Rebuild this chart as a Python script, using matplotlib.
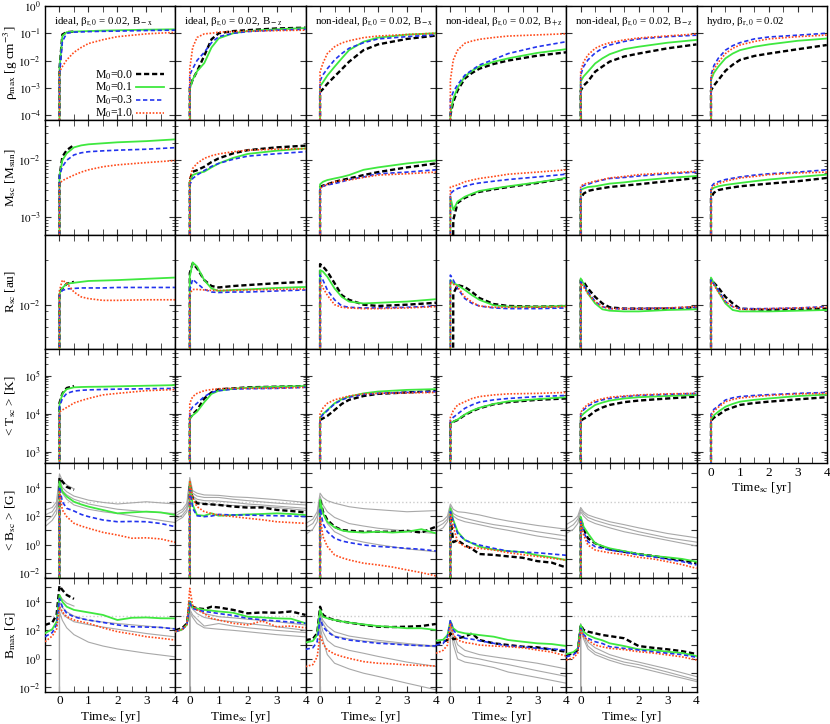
import numpy as np
import matplotlib
matplotlib.use("Agg")
import matplotlib.pyplot as plt
from matplotlib.ticker import LogLocator, FuncFormatter, MultipleLocator, NullFormatter

plt.rcParams['font.family'] = ['Liberation Serif', 'DejaVu Serif']
plt.rcParams['mathtext.fontset'] = 'stix'

F = 1e-12  # "not yet formed" -> drawn below the axis

# time grids [yr]
T_A = [0, 0, 0.1, 0.25, 0.5, 0.75, 1, 1.5, 2, 3, 4]
T_B5 = [0, 0, 0.1, 0.25, 0.5, 0.75, 1, 1.5, 2, 2.5, 3, 3.5, 4]
T_B6 = [-0.5, -0.25, -0.1, 0, 0.1, 0.25, 0.5, 0.75, 1, 1.5, 2, 2.5, 3, 3.5, 4]
T_G5 = [-0.5, -0.25, -0.1, 0, 0.1, 0.25, 0.5, 1, 1.5, 2, 3, 4]
T_G6 = [0, 0, 0.1, 0.25, 0.5, 1, 1.5, 2, 3, 4]

titles = [r"ideal, β$_{\rm r,0}$ = 0.02, B$_{\rm -x}$",
          r"ideal, β$_{\rm r,0}$ = 0.02, B$_{\rm -z}$",
          r"non-ideal, β$_{\rm r,0}$ = 0.02, B$_{\rm -x}$",
          r"non-ideal, β$_{\rm r,0}$ = 0.02, B$_{\rm +z}$",
          r"non-ideal, β$_{\rm r,0}$ = 0.02, B$_{\rm -z}$",
          r"hydro, β$_{\rm r,0}$ = 0.02"]
ylabels = [r"ρ$_{\rm max}$ [g cm$^{-3}$]", r"M$_{\rm sc}$ [M$_{\rm sun}$]",
           r"R$_{\rm sc}$ [au]", r"< T$_{\rm sc}$ > [K]",
           r"< B$_{\rm sc}$ > [G]", r"B$_{\rm max}$ [G]"]
labels = [r"M$_0$=0.0", r"M$_0$=0.1", r"M$_0$=0.3", r"M$_0$=1.0"]

# ---- rho_max [g cm^-3], series order: M0 = 0.0, 0.1, 0.3, 1.0 ----
RHO_C1 = [[F, 5e-3, 0.09, 0.11, 0.115],
          [F, 5e-3, 0.08, 0.11, 0.115, 0.118, 0.12, 0.125, 0.128, 0.135, 0.14],
          [F, 3e-3, 0.05, 0.10, 0.11, 0.112, 0.115, 0.118, 0.12, 0.126, 0.13],
          [F, 3.9e-3, 6e-3, 0.0105, 0.02, 0.03, 0.042, 0.058, 0.075, 0.095, 0.108]]
RHO_C2 = [[F, 1e-3, 2e-3, 4e-3, 0.015, 0.06, 0.1, 0.12, 0.13, 0.15, 0.16],
          [F, 9e-4, 2e-3, 4e-3, 8e-3, 0.03, 0.065, 0.1, 0.12, 0.14, 0.155],
          [F, 3e-3, 5e-3, 0.01, 0.02, 0.045, 0.075, 0.1, 0.115, 0.13, 0.14],
          [F, 5e-3, 0.03, 0.07, 0.095, 0.1, 0.11, 0.115, 0.12, 0.125, 0.13]]
RHO_C3 = [[F, 7e-4, 9e-4, 1.4e-3, 2.6e-3, 4.8e-3, 9e-3, 0.024, 0.039, 0.062, 0.082],
          [F, 1.15e-3, 1.6e-3, 2.8e-3, 5.9e-3, 0.012, 0.024, 0.049, 0.069, 0.089, 0.1],
          [F, 1.8e-3, 3e-3, 5e-3, 0.0105, 0.018, 0.028, 0.045, 0.062, 0.075, 0.088],
          [F, 3.9e-3, 8e-3, 0.018, 0.032, 0.044, 0.053, 0.069, 0.079, 0.09, 0.1]]
RHO_C4 = [[F, 1e-4, 3e-4, 8e-4, 2.2e-3, 3.5e-3, 5e-3, 7.5e-3, 0.01, 0.015, 0.02],
          [F, 1.2e-4, 4e-4, 1e-3, 2.6e-3, 4.2e-3, 6e-3, 9e-3, 0.012, 0.019, 0.026],
          [F, 3.8e-4, 7e-4, 1.3e-3, 2.9e-3, 4.5e-3, 6.8e-3, 0.011, 0.018, 0.032, 0.049],
          [F, 1.9e-3, 0.0105, 0.024, 0.043, 0.052, 0.06, 0.07, 0.079, 0.087, 0.096]]
RHO_C5 = [[F, 7.8e-4, 1.2e-3, 1.7e-3, 3.9e-3, 6e-3, 9.1e-3, 0.014, 0.018, 0.028, 0.039],
          [F, 1.7e-3, 2.6e-3, 3.9e-3, 7.8e-3, 0.012, 0.017, 0.026, 0.032, 0.045, 0.057],
          [F, 2.9e-3, 6e-3, 0.0105, 0.019, 0.028, 0.037, 0.05, 0.062, 0.075, 0.085],
          [F, 3.9e-3, 9e-3, 0.016, 0.028, 0.037, 0.045, 0.057, 0.067, 0.08, 0.094]]
RHO_C6 = [[F, 8e-4, 1.2e-3, 1.9e-3, 4.2e-3, 7e-3, 0.0105, 0.0147, 0.018, 0.026, 0.037],
          [F, 1.9e-3, 3.5e-3, 5.9e-3, 0.012, 0.018, 0.024, 0.032, 0.039, 0.053, 0.064],
          [F, 2.9e-3, 6.5e-3, 0.012, 0.024, 0.035, 0.045, 0.062, 0.073, 0.085, 0.1],
          [F, 2.4e-3, 4.8e-3, 8.5e-3, 0.018, 0.028, 0.037, 0.05, 0.062, 0.075, 0.086]]

# ---- M_sc [M_sun] ----
MSC_C1 = [[F, 5.2e-3, 0.0115, 0.015, 0.0185],
          [F, 5.2e-3, 0.010, 0.0132, 0.0168, 0.0182, 0.019, 0.0198, 0.0206, 0.0216, 0.0232],
          [F, 5.4e-3, 7.7e-3, 0.010, 0.0124, 0.0135, 0.0141, 0.0146, 0.015, 0.0156, 0.0166],
          [F, 3.9e-3, 4.4e-3, 4.8e-3, 5.5e-3, 6.2e-3, 6.8e-3, 7.7e-3, 8.3e-3, 9.1e-3, 9.9e-3]]
MSC_C2 = [[F, 4.5e-3, 6.3e-3, 6.7e-3, 7.7e-3, 9.3e-3, 0.0108, 0.0132, 0.015, 0.0168, 0.018],
          [F, 4.2e-3, 5.5e-3, 5.9e-3, 6.3e-3, 7.5e-3, 8.8e-3, 0.011, 0.0129, 0.0147, 0.0161],
          [F, 3.7e-3, 4.8e-3, 5.5e-3, 6.6e-3, 7.8e-3, 8.8e-3, 0.0104, 0.0118, 0.013, 0.0141],
          [F, 4.8e-3, 7.2e-3, 8.8e-3, 0.0108, 0.012, 0.0129, 0.0141, 0.015, 0.0156, 0.016]]
MSC_C3 = [[F, 3.4e-3, 3.6e-3, 3.8e-3, 4.2e-3, 4.5e-3, 4.8e-3, 5.5e-3, 6.2e-3, 7.5e-3, 8.8e-3],
          [F, 3.8e-3, 4.2e-3, 4.5e-3, 4.8e-3, 5.1e-3, 5.5e-3, 6.8e-3, 7.5e-3, 8.8e-3, 9.9e-3],
          [F, 3.2e-3, 3.5e-3, 3.7e-3, 3.9e-3, 4.2e-3, 4.6e-3, 5.1e-3, 5.8e-3, 6.2e-3, 6.8e-3],
          [F, 3.2e-3, 3.5e-3, 3.8e-3, 4.2e-3, 4.4e-3, 4.5e-3, 5e-3, 5.5e-3, 5.8e-3, 6.2e-3]]
MSC_C4 = [[F, F, 9e-4, 1.8e-3, 2.2e-3, 2.5e-3, 2.8e-3, 3.1e-3, 3.4e-3, 4e-3, 4.8e-3],
          [F, 2.3e-3, 1.35e-3, 1.9e-3, 2.3e-3, 2.6e-3, 2.9e-3, 3.2e-3, 3.5e-3, 4.1e-3, 4.9e-3],
          [F, 2.6e-3, 2.9e-3, 3.2e-3, 3.5e-3, 3.8e-3, 4e-3, 4.3e-3, 4.6e-3, 5.1e-3, 5.7e-3],
          [F, 3.4e-3, 3.5e-3, 3.7e-3, 4.2e-3, 4.5e-3, 4.8e-3, 5.2e-3, 5.7e-3, 6.2e-3, 6.8e-3]]
MSC_C5 = [[F, 2.1e-3, 2.6e-3, 2.9e-3, 3.1e-3, 3.25e-3, 3.4e-3, 3.6e-3, 3.8e-3, 4.3e-3, 4.9e-3],
          [F, 3e-3, 3.2e-3, 3.4e-3, 3.5e-3, 3.7e-3, 3.9e-3, 4.1e-3, 4.4e-3, 4.9e-3, 5.3e-3],
          [F, 3.4e-3, 3.6e-3, 3.8e-3, 4.2e-3, 4.5e-3, 4.8e-3, 5e-3, 5.3e-3, 5.8e-3, 6.2e-3],
          [F, 3.5e-3, 3.8e-3, 4e-3, 4.3e-3, 4.6e-3, 4.9e-3, 5.2e-3, 5.6e-3, 6e-3, 6.4e-3]]
MSC_C6 = [[F, 2.2e-3, 2.7e-3, 3e-3, 3.2e-3, 3.35e-3, 3.5e-3, 3.7e-3, 3.9e-3, 4.3e-3, 4.9e-3],
          [F, 3e-3, 3.3e-3, 3.5e-3, 3.7e-3, 3.85e-3, 4e-3, 4.3e-3, 4.6e-3, 5.1e-3, 5.6e-3],
          [F, 3.4e-3, 3.9e-3, 4.2e-3, 4.6e-3, 4.85e-3, 5.1e-3, 5.5e-3, 5.8e-3, 6.2e-3, 6.8e-3],
          [F, 3.1e-3, 3.6e-3, 3.9e-3, 4.3e-3, 4.6e-3, 4.9e-3, 5.2e-3, 5.6e-3, 6e-3, 6.2e-3]]

# ---- R_sc [au] ----
RSC_C1 = [[F, 0.0122, 0.0129, 0.0139, 0.0143],
          [F, 0.0119, 0.013, 0.0139, 0.0141, 0.0143, 0.0145, 0.0146, 0.0147, 0.015, 0.0153],
          [F, 0.0117, 0.0125, 0.0128, 0.0129, 0.013, 0.013, 0.013, 0.0131, 0.0131, 0.0131],
          [F, 0.0125, 0.0147, 0.014, 0.0122, 0.0113, 0.011, 0.0107, 0.0107, 0.0108, 0.0108]]
RSC_C2 = [[F, 0.0164, 0.0191, 0.0177, 0.0147, 0.0134, 0.0131, 0.0134, 0.0136, 0.014, 0.0143],
          [F, 0.0155, 0.0194, 0.0182, 0.0147, 0.0129, 0.0124, 0.0126, 0.0127, 0.013, 0.0132],
          [F, 0.0126, 0.0149, 0.014, 0.0127, 0.0122, 0.0121, 0.0122, 0.0122, 0.0124, 0.0126],
          [F, 0.0119, 0.0127, 0.0127, 0.0126, 0.0125, 0.0125, 0.0125, 0.0126, 0.0127, 0.0128]]
RSC_C3 = [[F, 0.0189, 0.0182, 0.0168, 0.014, 0.0116, 0.0108, 0.01, 0.0098, 0.01, 0.0103],
          [F, 0.0172, 0.0168, 0.0155, 0.0129, 0.0113, 0.0105, 0.0102, 0.0103, 0.0105, 0.0109],
          [F, 0.0159, 0.0147, 0.0126, 0.0108, 0.0098, 0.0096, 0.0095, 0.0095, 0.0096, 0.0098],
          [F, 0.0143, 0.013, 0.0116, 0.01, 0.0096, 0.0095, 0.0094, 0.0094, 0.0095, 0.0097]]
RSC_C4 = [[F, F, 0.0119, 0.0136, 0.0132, 0.0122, 0.0111, 0.0101, 0.0098, 0.0097, 0.0098],
          [F, 0.0147, 0.014, 0.0136, 0.0126, 0.0116, 0.0108, 0.0099, 0.0097, 0.0097, 0.0098],
          [F, 0.0159, 0.0147, 0.0129, 0.011, 0.0102, 0.0098, 0.0095, 0.0094, 0.0094, 0.0095],
          [F, 0.0143, 0.0138, 0.0132, 0.0113, 0.0104, 0.0098, 0.0096, 0.0096, 0.0096, 0.0097]]
RSC_C5 = [[F, 0.0147, 0.0143, 0.0129, 0.0113, 0.0102, 0.0096, 0.0094, 0.0094, 0.0094, 0.0096],
          [F, 0.0151, 0.0139, 0.0119, 0.0102, 0.0093, 0.0091, 0.009, 0.009, 0.0092, 0.0093],
          [F, 0.0143, 0.0136, 0.0123, 0.0105, 0.0097, 0.0094, 0.0094, 0.0094, 0.0095, 0.0096],
          [F, 0.014, 0.0132, 0.0119, 0.0105, 0.0097, 0.0094, 0.0094, 0.0094, 0.0095, 0.0097]]
RSC_C6 = [[F, 0.0149, 0.0141, 0.0131, 0.0113, 0.0102, 0.0094, 0.0093, 0.0092, 0.0093, 0.0094],
          [F, 0.0153, 0.014, 0.0123, 0.0102, 0.0092, 0.009, 0.009, 0.009, 0.0091, 0.0092],
          [F, 0.0147, 0.0138, 0.0126, 0.0105, 0.0097, 0.0094, 0.0094, 0.0094, 0.0095, 0.0097],
          [F, 0.0143, 0.0136, 0.0122, 0.0105, 0.0097, 0.0093, 0.0093, 0.0094, 0.0095, 0.0096]]

# ---- <T_sc> [K] ----
TSC_C1 = [[F, 1.9e4, 3.4e4, 4.7e4, 5.3e4],
          [F, 1.7e4, 3.3e4, 4.4e4, 4.9e4, 5e4, 5.05e4, 5.1e4, 5.2e4, 5.4e4, 5.6e4],
          [F, 1.5e4, 2.5e4, 3.4e4, 3.9e4, 4.1e4, 4.2e4, 4.3e4, 4.4e4, 4.5e4, 4.6e4],
          [F, 1.1e4, 1.25e4, 1.45e4, 1.9e4, 2.2e4, 2.5e4, 3.1e4, 3.4e4, 4e4, 4.3e4]]
TSC_C2 = [[F, 7.5e3, 9.5e3, 1.24e4, 2.5e4, 3.6e4, 4.35e4, 4.6e4, 4.9e4, 5.1e4, 5.3e4],
          [F, 7.5e3, 9e3, 1.12e4, 2e4, 3.3e4, 4e4, 4.5e4, 4.8e4, 5.1e4, 5.3e4],
          [F, 1.12e4, 1.5e4, 1.87e4, 2.8e4, 3.6e4, 4e4, 4.4e4, 4.5e4, 4.6e4, 4.9e4],
          [F, 1.87e4, 2.8e4, 3.4e4, 4e4, 4.3e4, 4.5e4, 4.6e4, 4.6e4, 4.7e4, 4.9e4]]
TSC_C3 = [[F, 6.8e3, 7.5e3, 8.7e3, 1.24e4, 1.8e4, 2.3e4, 2.9e4, 3.3e4, 3.6e4, 3.9e4],
          [F, 8e3, 9.8e3, 1.24e4, 1.87e4, 2.4e4, 2.8e4, 3.4e4, 3.8e4, 4.2e4, 4.4e4],
          [F, 7.5e3, 9.5e3, 1.2e4, 1.8e4, 2.3e4, 2.7e4, 3.2e4, 3.4e4, 3.6e4, 3.8e4],
          [F, 9.8e3, 1.4e4, 1.87e4, 2.3e4, 2.6e4, 2.9e4, 3.3e4, 3.4e4, 3.5e4, 3.6e4]]
TSC_C4 = [[F, 5.6e3, 6.1e3, 6.8e3, 9.2e3, 1.15e4, 1.38e4, 1.76e4, 2e4, 2.3e4, 2.5e4],
          [F, 5.6e3, 6.2e3, 7e3, 9.5e3, 1.2e4, 1.42e4, 1.8e4, 2.1e4, 2.4e4, 2.7e4],
          [F, 6.8e3, 8e3, 9.8e3, 1.38e4, 1.7e4, 2e4, 2.3e4, 2.5e4, 2.8e4, 3e4],
          [F, 8e3, 1.2e4, 1.69e4, 2.05e4, 2.5e4, 2.8e4, 3.1e4, 3.3e4, 3.4e4, 3.6e4]]
TSC_C5 = [[F, 6.5e3, 7.3e3, 8.3e3, 1.17e4, 1.45e4, 1.69e4, 2e4, 2.2e4, 2.5e4, 2.8e4],
          [F, 8.3e3, 1e4, 1.24e4, 1.69e4, 1.95e4, 2.2e4, 2.5e4, 2.7e4, 2.9e4, 3.1e4],
          [F, 9.8e3, 1.25e4, 1.58e4, 2e4, 2.3e4, 2.5e4, 2.8e4, 3e4, 3.2e4, 3.4e4],
          [F, 1.06e4, 1.4e4, 1.75e4, 2.2e4, 2.45e4, 2.7e4, 2.9e4, 3.1e4, 3.3e4, 3.4e4]]
TSC_C6 = [[F, 6.5e3, 7.8e3, 9.2e3, 1.24e4, 1.45e4, 1.69e4, 1.9e4, 2.06e4, 2.37e4, 2.7e4],
          [F, 7.1e3, 9e3, 1.12e4, 1.52e4, 1.8e4, 2.06e4, 2.3e4, 2.5e4, 2.9e4, 3.15e4],
          [F, 9.6e3, 1.3e4, 1.58e4, 2.28e4, 2.6e4, 2.8e4, 3e4, 3.15e4, 3.4e4, 3.6e4],
          [F, 8.7e3, 1.15e4, 1.46e4, 2.06e4, 2.35e4, 2.57e4, 2.8e4, 3e4, 3.3e4, 3.4e4]]

# ---- <B_sc> [G] (colored on T_B5, gray on T_G5) ----
BSC_C1 = [[F, 4.6e4, 2.6e4, 1.1e4, 6.7e3],
          [F, 2.6e4, 5.1e3, 2.3e3, 1e3, 650, 455, 265, 155, 180, 204, 180, 118],
          [F, 1.1e4, 1e3, 347, 226, 130, 91, 53, 40, 42, 40, 30, 18],
          [F, 5.1e3, 265, 91, 31, 20, 14, 7.2, 4.7, 2.8, 3, 2.5, 1.45]]
BSC_C2 = [[F, 1.5e4, 1.7e3, 770, 700, 650, 600, 460, 390, 400, 270, 226, 180],
          [F, 2.6e4, 600, 118, 105, 155, 105, 118, 130, 140, 155, 140, 118],
          [F, 1.1e4, 347, 105, 91, 100, 130, 118, 118, 110, 105, 100, 91],
          [F, 3e4, 1.7e3, 455, 204, 150, 118, 91, 70, 55, 40, 35, 31]]
BSC_C3 = [[F, 1.4e3, 204, 53, 18, 10.6, 9.4, 8, 8, 8, 9.4, 7, 18],
          [F, 1.4e3, 155, 40, 16, 10, 8, 7, 8, 7, 8, 12, 6.2],
          [F, 347, 30, 8, 2.8, 1.8, 1.4, 0.94, 0.75, 0.65, 0.55, 0.47, 0.36],
          [F, 91, 3.6, 0.75, 0.19, 0.12, 0.085, 0.05, 0.038, 0.027, 0.017, 0.011, 6.5e-3]]
BSC_C4 = [[F, 100, 1.5, 2, 0.9, 0.5, 0.22, 0.19, 0.15, 0.12, 0.07, 0.055, 0.025],
          [F, 347, 53, 8, 2.1, 1.24, 0.72, 0.45, 0.35, 0.3, 0.18, 0.13, 0.083],
          [F, 204, 40, 6.2, 2.1, 1.3, 0.94, 0.55, 0.35, 0.3, 0.27, 0.22, 0.18],
          [F, 155, 18, 1.6, 0.72, 0.6, 0.55, 0.42, 0.27, 0.2, 0.15, 0.11, 0.083]]
BSC_C5 = [[F, 69, 13, 2.8, 1.24, 0.72, 0.47, 0.32, 0.22, 0.16, 0.11, 0.08, 0.049],
          [F, 91, 18, 6.2, 1.24, 0.8, 0.55, 0.35, 0.22, 0.16, 0.13, 0.1, 0.064],
          [F, 53, 8, 1.6, 0.72, 0.55, 0.42, 0.3, 0.19, 0.14, 0.093, 0.065, 0.038],
          [F, 40, 4.8, 0.94, 0.42, 0.33, 0.27, 0.2, 0.13, 0.1, 0.064, 0.04, 0.022]]
BSC_G1 = [[260, 400, 1000, 9e4, 3e4, 1.5e4, 8e3],
          [120, 200, 600, 5e4, 1e4, 5e3, 2.5e3, 1.3e3, 900, 700, 1000, 700],
          [40, 100, 300, 3e4, 6e3, 3e3, 1.5e3, 700, 450, 300, 200, 150],
          [18, 50, 150, 2e4, 4e3, 1.5e3, 600, 300, 200, 150, 70, 35]]
BSC_G2 = [[150, 300, 800, 5e4, 6e3, 4e3, 3e3, 2.8e3, 2.2e3, 2e3, 1.4e3, 900],
          [100, 200, 500, 3e4, 4e3, 2.5e3, 2e3, 2e3, 1.5e3, 1.2e3, 800, 600],
          [60, 120, 300, 2e4, 2.5e3, 1.5e3, 1.2e3, 1.1e3, 900, 700, 500, 350],
          [40, 80, 200, 1.5e4, 2e3, 1e3, 700, 600, 550, 500, 400, 250]]
BSC_G3 = [[30, 60, 200, 4e3, 2e3, 1.2e3, 800, 450, 330, 280, 200, 240],
          [15, 30, 100, 2.5e3, 600, 200, 80, 30, 20, 14, 9, 6],
          [5, 12, 40, 1.5e3, 150, 30, 8, 2.5, 1.5, 1, 0.5, 0.32]]
BSC_G4 = [[30, 50, 100, 700, 300, 200, 180, 120, 70, 45, 22, 12],
          [15, 30, 60, 500, 150, 100, 70, 40, 25, 18, 8, 4],
          [8, 15, 40, 350, 100, 60, 40, 25, 15, 10, 4, 2]]
BSC_G5 = [[25, 50, 100, 400, 200, 120, 80, 40, 25, 15, 6, 3],
          [12, 25, 60, 300, 150, 80, 50, 25, 15, 8, 3, 1.5],
          [6, 12, 30, 200, 100, 50, 30, 15, 8, 5, 2, 0.8]]

# ---- B_max [G] (colored on T_B6, gray on T_G6) ----
BMX_C1 = [[240, 350, 1.2e3, 1.3e5, 6.7e4, 3e4, 1.6e4],
          [63, 120, 400, 3e4, 1e4, 4.5e3, 2.7e3, 2.2e3, 1.8e3, 1.2e3, 530, 760, 800, 700, 690],
          [36, 70, 250, 1.7e4, 4.5e3, 1.55e3, 900, 650, 530, 360, 240, 180, 170, 160, 125],
          [16, 40, 120, 4.5e3, 2e3, 900, 530, 400, 310, 150, 81, 55, 36, 28, 21]]
BMX_C2 = [[100, 150, 300, 1e4, 4.5e3, 3.5e3, 3.1e3, 4.5e3, 4e3, 2.7e3, 1.55e3, 1.8e3, 1.7e3, 2.1e3, 1.2e3],
          [80, 120, 250, 1e4, 4e3, 3.4e3, 2.7e3, 2.4e3, 2.1e3, 1.7e3, 900, 800, 690, 650, 310],
          [80, 120, 250, 8e3, 3.5e3, 2.7e3, 2.1e3, 1.8e3, 1.5e3, 1.1e3, 690, 550, 450, 380, 310],
          [80, 120, 250, 8.7e4, 5.5e3, 2.7e3, 1.5e3, 690, 530, 310, 240, 450, 180, 200, 150]]
BMX_C3 = [[21, 25, 63, 4.5e3, 1.2e3, 770, 530, 420, 350, 240, 180, 170, 180, 200, 280],
          [14, 18, 47, 2.7e3, 900, 700, 530, 420, 350, 260, 200, 170, 140, 140, 107],
          [4.7, 6, 16, 690, 181, 81, 36, 27, 21, 16, 12.4, 11, 9.4, 8.5, 8],
          [0.29, 0.4, 1.4, 48, 12, 4.3, 2.2, 1.5, 1.1, 0.65, 0.5, 0.45, 0.38, 0.35, 0.32]]
BMX_C4 = [[12.4, 16, 21, 62, 24, 28, 36, 62, 21, 12.4, 9.4, 7.2, 6.5, 4.5, 3.2],
          [19, 22, 47, 450, 139, 81, 62, 55, 47, 36, 21, 16, 12.4, 11, 8],
          [9.4, 12, 36, 531, 106, 47, 28, 24, 19, 12.4, 8, 7, 5.5, 5, 4.2],
          [2.5, 4, 9.4, 309, 47, 21, 14, 12, 9.4, 8, 7.2, 6, 4.2, 3, 1.6]]
BMX_C5 = [[1.9, 2.5, 4.2, 237, 106, 81, 62, 47, 40, 28, 8, 6, 4.7, 3.5, 2.2],
          [2.2, 3, 5.5, 237, 81, 47, 28, 20, 12.4, 8, 4.7, 4.2, 3.2, 2.6, 1.6],
          [1.4, 2, 3.5, 139, 50, 28, 16, 12, 7.2, 5.5, 4.2, 3.2, 2.5, 2, 1.3],
          [0.84, 1.2, 2.5, 106, 36, 21, 9.4, 7, 5.5, 4.5, 3.2, 2.6, 1.9, 1.4, 0.84]]
BMX_G1 = [[F, 3e4, 1.5e4, 8e3, 5e3],
          [F, 1e4, 4e3, 2e3, 1e3, 500, 380, 300, 200, 130],
          [F, 5e3, 1.5e3, 800, 400, 250, 170, 120, 60, 35],
          [F, 2e3, 500, 150, 50, 15, 8, 5, 2.5, 1.4]]
BMX_G2 = [[F, 1e4, 5e3, 3e3, 1.5e3, 900, 750, 600, 400, 240],
          [F, 6e3, 3e3, 1.5e3, 800, 500, 400, 300, 180, 100],
          [F, 3e3, 1.2e3, 600, 200, 300, 200, 150, 100, 70],
          [F, 2e3, 800, 300, 150, 120, 100, 80, 50, 35]]
BMX_G3 = [[F, 1.5e3, 500, 200, 80, 40, 28, 20, 12, 8],
          [F, 1e3, 300, 100, 40, 25, 18, 15, 10, 7],
          [F, 500, 80, 20, 8, 4, 2.5, 1.5, 0.6, 0.3],
          [F, 200, 20, 2, 0.5, 0.2, 0.1, 0.06, 0.02, 7e-3]]
BMX_G4 = [[F, 500, 60, 10, 4, 2, 1.4, 1, 0.5, 0.2],
          [F, 300, 30, 3, 1.5, 1, 0.6, 0.4, 0.15, 0.06],
          [F, 200, 10, 1, 0.6, 0.4, 0.25, 0.12, 0.05, 0.02]]
BMX_G5 = [[F, 300, 60, 15, 6, 2, 1, 0.6, 0.2, 0.058],
          [F, 200, 40, 8, 3, 1.2, 0.6, 0.4, 0.12, 0.034],
          [F, 150, 25, 5, 2, 0.8, 0.4, 0.25, 0.08, 0.026]]

ROWS = [
    (T_A, [RHO_C1, RHO_C2, RHO_C3, RHO_C4, RHO_C5, RHO_C6], None, None, (6.4e-5, 1.0)),
    (T_A, [MSC_C1, MSC_C2, MSC_C3, MSC_C4, MSC_C5, MSC_C6], None, None, (5e-4, 5e-2)),
    (T_A, [RSC_C1, RSC_C2, RSC_C3, RSC_C4, RSC_C5, RSC_C6], None, None, (5e-3, 3e-2)),
    (T_A, [TSC_C1, TSC_C2, TSC_C3, TSC_C4, TSC_C5, TSC_C6], None, None, (5e2, 5e5)),
    (T_B5, [BSC_C1, BSC_C2, BSC_C3, BSC_C4, BSC_C5], T_G5,
     [BSC_G1, BSC_G2, BSC_G3, BSC_G4, BSC_G5], (5e-3, 5e5)),
    (T_B6, [BMX_C1, BMX_C2, BMX_C3, BMX_C4, BMX_C5], T_G6,
     [BMX_G1, BMX_G2, BMX_G3, BMX_G4, BMX_G5], (5e-3, 5e5)),
]

styles = [dict(color="black", lw=1.7, dashes=(2.2, 1.2)),
          dict(color="#3fe83f", lw=1.3, linestyle="-"),
          dict(color="#2233ee", lw=1.2, dashes=(2.6, 1.6)),
          dict(color="#ff4a1a", lw=1.2, dashes=(1.0, 1.0))]

W, H = 830, 724
fig = plt.figure(figsize=(W / 100, H / 100), dpi=100)
x0, y0, cw, rh = 45, 6, 130.3, 114.3


def log_label(v, pos, step):
    e = int(round(np.log10(v)))
    if abs(np.log10(v) - e) > 1e-6 or e % step:
        return ""
    return r"$10^{%d}$" % e


axes_grid = {}
for r, (t, cols, tg, grays, ylim) in enumerate(ROWS):
    for c in range(6):
        if c >= len(cols):
            continue
        ax = fig.add_axes([(x0 + c * cw) / W, 1 - (y0 + (r + 1) * rh) / H, cw / W, rh / H])
        axes_grid[(r, c)] = ax
        ax.set_yscale("log")
        ax.set_xlim(-0.5, 4)
        ax.set_ylim(*ylim)

        if grays is not None:
            ax.axhline(1e3, color="#cccccc", lw=1.0, ls=":", zorder=1)
            for g in grays[c]:
                ax.plot(tg[:len(g)], g, color="#a8a8a8", lw=0.8, zorder=2)
        for k, vals in enumerate(cols[c]):
            ax.plot(t[:len(vals)], vals, label=labels[k], zorder=3 + k, **styles[k])

        # ticks
        ax.xaxis.set_major_locator(MultipleLocator(1))
        ax.xaxis.set_minor_locator(MultipleLocator(0.5))
        step = 2 if r >= 4 else 1
        ax.yaxis.set_major_locator(LogLocator(base=10, numticks=30))
        if r in (1, 2, 3):
            ax.yaxis.set_minor_locator(LogLocator(base=10, subs=np.arange(2, 10), numticks=30))
        else:
            ax.yaxis.set_minor_locator(LogLocator(base=10, subs=[], numticks=30))
        ax.yaxis.set_major_formatter(FuncFormatter(lambda v, p, s=step: log_label(v, p, s)))
        ax.yaxis.set_minor_formatter(NullFormatter())
        ax.tick_params(which="both", direction="in", top=True, right=True, color="#333333")
        ax.tick_params(axis="y", labelsize=8, pad=3)
        ax.tick_params(axis="x", labelsize=9.5, pad=2.5)
        ax.tick_params(which="major", length=4, width=0.8)
        ax.tick_params(which="minor", length=2.5, width=0.6)
        ax.tick_params(axis="x", which="minor", length=4)
        if c > 0:
            ax.tick_params(labelleft=False)
        bottom = (r == 5) or (c == 5 and r == 3)
        if not bottom:
            ax.tick_params(labelbottom=False)
        else:
            ax.set_xlabel(r"Time$_{\rm sc}$ [yr]", fontsize=9.5, labelpad=1)
        for s in ax.spines.values():
            s.set_linewidth(1.0)

        if r == 0:
            ax.text(0.07, 0.86, titles[c], transform=ax.transAxes,
                    fontsize=7.8, ha="left", va="center")

    fig.text(0.013, 1 - (y0 + (r + 0.5) * rh) / H, ylabels[r], rotation=90,
             ha="center", va="center", fontsize=9.5)

leg = axes_grid[(0, 0)].legend(loc="lower right", bbox_to_anchor=(0.91, 0.0),
                               frameon=False, fontsize=8.5, markerfirst=False,
                               handlelength=2.3, handletextpad=0.3,
                               labelspacing=-0.05, borderaxespad=0, borderpad=0)

fig.savefig("out.png", dpi=100)
